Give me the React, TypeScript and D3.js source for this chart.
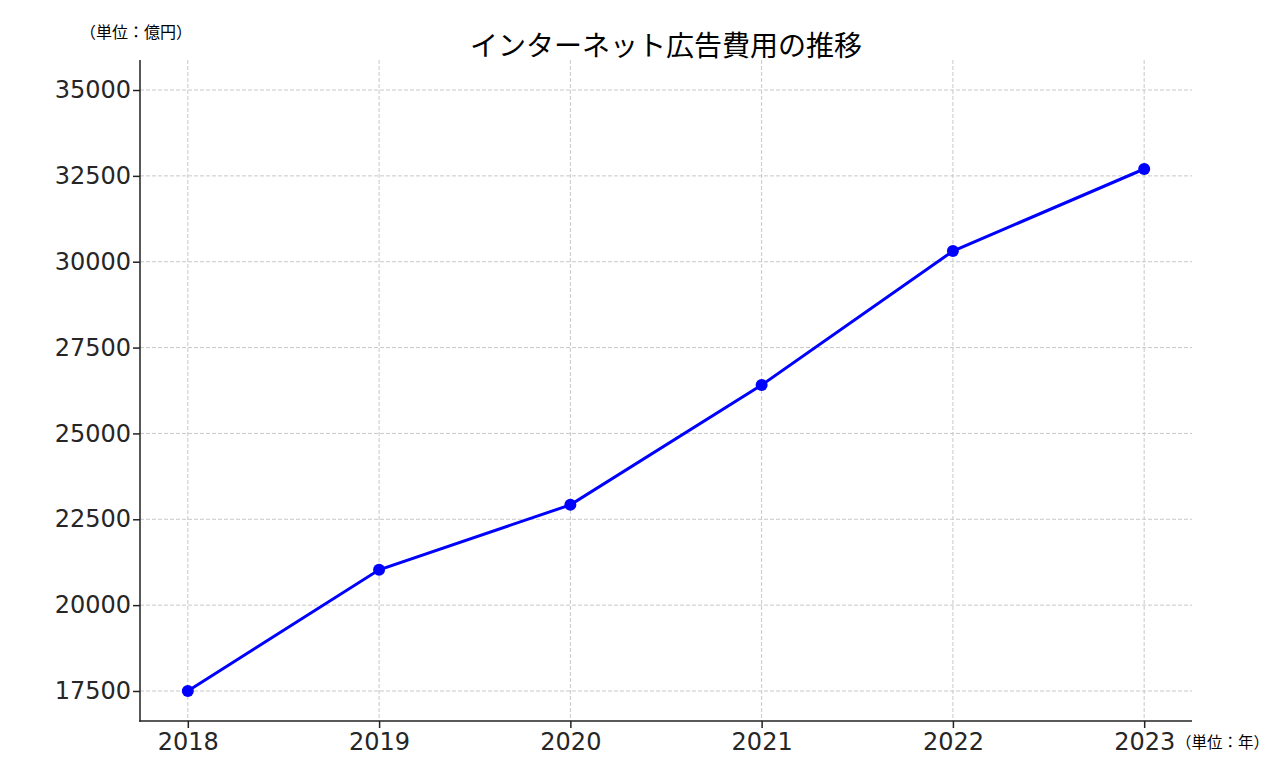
import React, { useEffect, useRef } from "react";
import * as d3 from "d3";

const years = [2018, 2019, 2020, 2021, 2022, 2023];
const spending = [17500, 21030, 22920, 26410, 30310, 32700];
const yTicks = [17500, 20000, 22500, 25000, 27500, 30000, 32500, 35000];
const title = "インターネット広告費用の推移";
const yUnit = "（単位：億円）";
const xUnit = "（単位：年）";

export default function App() {
  const ref = useRef<SVGSVGElement>(null);
  useEffect(() => {
    const svg = d3.select(ref.current);
    svg.selectAll("*").remove();
    const W = 1272, H = 777;
    const left = 140, right = 1192, top = 60, bottom = 721;
    const x = d3.scaleLinear().domain([2017.75, 2023.25]).range([left, right]);
    const y = d3.scaleLinear().domain([16626, 35874]).range([bottom, top]);
    const font = "'DejaVu Sans', sans-serif";
    const cjk = "'Noto Sans CJK JP', 'DejaVu Sans', sans-serif";

    svg.append("rect").attr("width", W).attr("height", H).attr("fill", "#fff");

    const grid = svg.append("g");
    yTicks.forEach((t) => {
      grid.append("line").attr("x1", left).attr("x2", right).attr("y1", y(t)).attr("y2", y(t))
        .attr("stroke", "#c8c8c8").attr("stroke-width", 1).attr("stroke-dasharray", "4,2");
    });
    years.forEach((t) => {
      grid.append("line").attr("y1", top).attr("y2", bottom).attr("x1", x(t)).attr("x2", x(t))
        .attr("stroke", "#c8c8c8").attr("stroke-width", 1).attr("stroke-dasharray", "4,2");
    });

    const yAxis = d3.axisLeft(y).tickValues(yTicks).tickSize(7).tickPadding(2).tickFormat(d3.format("d"));
    const gy = svg.append("g").attr("transform", `translate(${left},0)`).call(yAxis);
    const xAxis = d3.axisBottom(x).tickValues(years).tickSize(7).tickPadding(5).tickFormat(d3.format("d"));
    const gx = svg.append("g").attr("transform", `translate(0,${bottom})`).call(xAxis);
    [gx, gy].forEach((g) => {
      g.select(".domain").remove();
      g.selectAll("line").attr("stroke", "#222").attr("stroke-width", 1.5);
      g.selectAll("text").attr("font-family", font).attr("font-size", 24).attr("fill", "#262626");
    });
    svg.append("line").attr("x1", left).attr("x2", left).attr("y1", top).attr("y2", bottom + 0.75)
      .attr("stroke", "#222").attr("stroke-width", 1.5);
    svg.append("line").attr("x1", left - 0.75).attr("x2", right).attr("y1", bottom).attr("y2", bottom)
      .attr("stroke", "#222").attr("stroke-width", 1.5);

    const line = d3.line<number>().x((_, i) => x(years[i])).y((d) => y(d));
    svg.append("path").datum(spending).attr("d", line).attr("fill", "none")
      .attr("stroke", "#0000ff").attr("stroke-width", 3);
    svg.selectAll("circle.pt").data(spending).enter().append("circle")
      .attr("cx", (_, i) => x(years[i])).attr("cy", (d) => y(d)).attr("r", 6).attr("fill", "#0000ff");

    svg.append("text").attr("x", (left + right) / 2).attr("y", 56).attr("text-anchor", "middle")
      .attr("font-family", cjk).attr("font-size", 28).attr("fill", "#000").text(title);
    svg.append("text").attr("x", 80).attr("y", 38)
      .attr("font-family", cjk).attr("font-size", 16).attr("fill", "#000").text(yUnit);
    svg.append("text").attr("x", 1176).attr("y", 748)
      .attr("font-family", cjk).attr("font-size", 15.5).attr("fill", "#000").text(xUnit);
  }, []);
  return (
    <svg ref={ref} width={1272} height={777}
      style={{ position: "absolute", left: 0, top: 0, display: "block" }} />
  );
}
